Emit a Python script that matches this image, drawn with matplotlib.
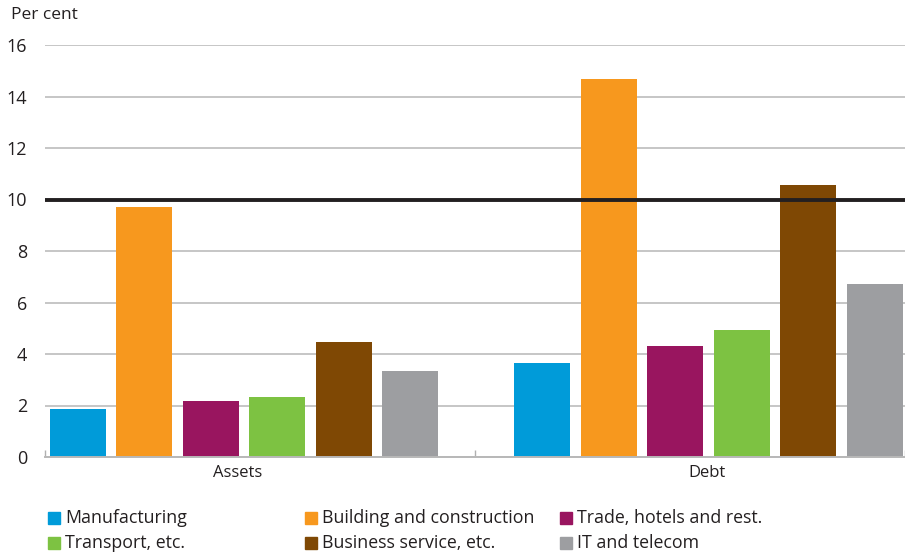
import matplotlib.pyplot as plt
from matplotlib.patches import Rectangle

plt.rcParams['font.family'] = ['Open Sans', 'DejaVu Sans']

groups = ["Assets", "Debt"]
sectors = ["Manufacturing", "Building and construction", "Trade, hotels and rest.",
           "Transport, etc.", "Business service, etc.", "IT and telecom"]
colors = ["#009bd9", "#f7981e", "#99155f", "#7dc242", "#7f4804", "#9d9ea1"]

assets = [1.86, 9.71, 2.17, 2.33, 4.47, 3.34]
debt = [3.65, 14.68, 4.31, 4.93, 10.56, 6.72]
threshold = 10

fig = plt.figure(figsize=(9.05, 5.59), dpi=100)
ax = fig.add_axes([45 / 905, 1 - 457 / 559, 860 / 905, 412 / 559])

group_centres = [0.463, 1.543]
step = 0.1545
width = 0.13
for i, (name, col) in enumerate(zip(sectors, colors)):
    off = (i - 2.5) * step
    ax.bar([group_centres[0] + off, group_centres[1] + off], [assets[i], debt[i]],
           width=width, color=col, zorder=2, label=name)

ax.axhline(threshold, color="#231f20", lw=2.8, zorder=3)

ax.set_xlim(0, 2)
ax.set_ylim(0, 16)
ax.set_yticks(range(0, 17, 2))
ax.yaxis.grid(True, color="#c6c6c6", lw=1.4, zorder=0)
ax.tick_params(axis="y", length=0, pad=13, labelsize=13, colors="#231f20")

ax.set_xticks([0.447, 1.54])
ax.set_xticklabels(groups)
ax.set_xticks([0, 1, 2], minor=True)
ax.tick_params(axis="x", which="major", length=0, pad=6, labelsize=12, colors="#231f20")
ax.tick_params(axis="x", which="minor", direction="in", length=5, color="#b0b0b0", width=1)

for s in ["left", "right", "top"]:
    ax.spines[s].set_visible(False)
ax.spines["bottom"].set_color("#b8b8b8")
ax.spines["bottom"].set_linewidth(1.4)

fig.text(11 / 905, 1 - 15 / 559, "Per cent", fontsize=12.5, va="center", ha="left",
         color="#231f20")

# legend laid out in three evenly spaced columns
col_x = [48, 305, 560]
row_y = [518, 543]
for i, (name, col) in enumerate(zip(sectors, colors)):
    x = col_x[i % 3]
    y = row_y[i // 3]
    fig.patches.append(Rectangle((x / 905, 1 - (y + 6) / 559), 12 / 905, 12 / 559,
                                 transform=fig.transFigure, color=col, figure=fig))
    fig.text((x + 17) / 905, 1 - y / 559, name, fontsize=12.8, va="center", ha="left",
             color="#231f20")

fig.savefig("out.png", dpi=100)
